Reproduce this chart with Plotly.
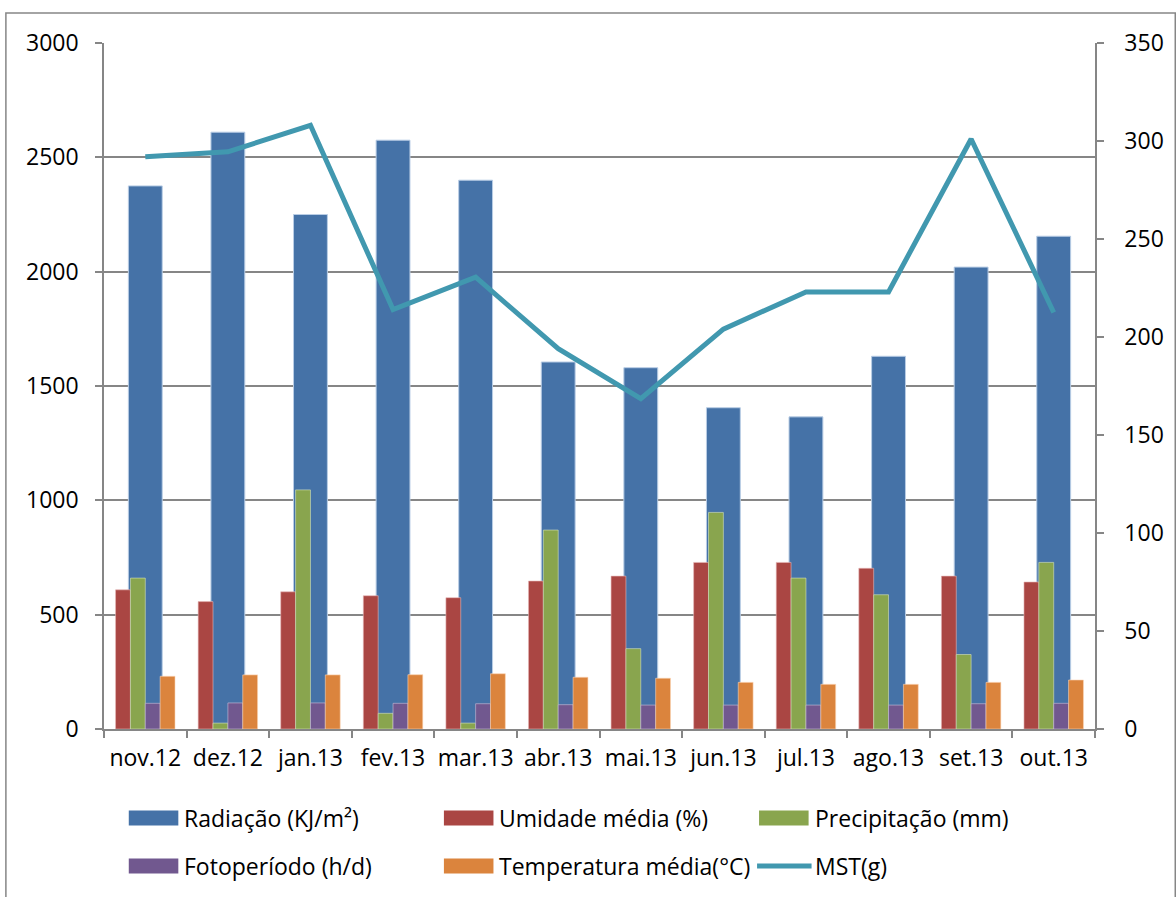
import plotly.graph_objects as go

# Monthly climate series and dry-matter yield (MST)
meses = ["nov.12", "dez.12", "jan.13", "fev.13", "mar.13", "abr.13",
         "mai.13", "jun.13", "jul.13", "ago.13", "set.13", "out.13"]
radiacao = [2375, 2610, 2250, 2575, 2400, 1605, 1580, 1405, 1365, 1630, 2020, 2155]
umidade = [71, 65, 70, 68, 67, 75.5, 78, 85, 85, 82, 78, 75]
precipitacao = [77, 3, 122, 8, 3, 101.5, 41, 110.5, 77, 68.5, 38, 85]
fotoperiodo = [13.1, 13.3, 13.3, 13.1, 12.9, 12.4, 12.2, 12.2, 12.2, 12.2, 12.9, 13.1]
temperatura = [26.9, 27.6, 27.6, 27.7, 28.2, 26.4, 25.9, 23.8, 22.8, 22.8, 23.8, 25.0]
mst = [292, 294.5, 308, 214, 230.5, 194, 168.5, 204, 223, 223, 301, 212.5]

FONT = "Open Sans"
FS = 23
GRID = "#868686"

# pixel geometry of the plotting area
W, H = 1176, 897
L, R, T, B = 104, 72, 43, 168
PW, PH = W - L - R, H - T - B


def px(x):
    return (x - L) / PW


def py(y):
    return (H - B - y) / PH


fig = go.Figure()

# Radiation on the primary axis: one wide bar per month
fig.add_trace(go.Bar(
    x=meses, y=radiacao, name="Radiação (KJ/m²)", yaxis="y",
    width=0.41, offset=-0.205,
    marker=dict(color="#4572A7", line=dict(color="#B9CDE5", width=1)),
))

# The other four series share the secondary axis, side by side
small = [
    ("Umidade média (%)", umidade, "#AA4643", "#E6B9B8"),
    ("Precipitação (mm)", precipitacao, "#89A54E", "#D7E4BD"),
    ("Fotoperíodo (h/d)", fotoperiodo, "#71588F", "#CCC1DA"),
    ("Temperatura média(°C)", temperatura, "#DB843D", "#FCD5B5"),
]
bw = 0.18
for i, (nome, vals, cor, borda) in enumerate(small):
    fig.add_trace(go.Bar(
        x=meses, y=vals, name=nome, yaxis="y2",
        width=bw, offset=-2 * bw + i * bw,
        marker=dict(color=cor, line=dict(color=borda, width=0.6)),
    ))

fig.add_trace(go.Scatter(
    x=meses, y=mst, name="MST(g)", yaxis="y2", mode="lines",
    line=dict(color="#4198AF", width=5),
))

fig.update_layout(
    width=W, height=H,
    margin=dict(l=L, r=R, t=T, b=B),
    paper_bgcolor="white", plot_bgcolor="white",
    font=dict(family=FONT, size=FS, color="black"),
    showlegend=False,
    barmode="overlay",
    xaxis=dict(
        type="category", tickson="boundaries", ticks="outside", ticklen=7,
        tickcolor=GRID, tickwidth=1.5, showline=True, linecolor=GRID, linewidth=1.5,
        showgrid=False, tickfont=dict(size=FS), ticklabelstandoff=8,
        tickangle=0, range=[-0.5, 11.5],
    ),
    yaxis=dict(
        range=[0, 3000], dtick=500, ticks="outside", ticklen=7,
        tickcolor=GRID, tickwidth=1.5, showline=True, linecolor=GRID, linewidth=1.5,
        showgrid=True, gridcolor=GRID, gridwidth=1.6, zeroline=False,
        tickfont=dict(size=FS), ticklabelstandoff=12,
    ),
    yaxis2=dict(
        range=[0, 350], dtick=50, overlaying="y", side="right",
        ticks="outside", ticklen=7, tickcolor=GRID, tickwidth=1.5,
        showline=True, linecolor=GRID, linewidth=1.5,
        showgrid=False, zeroline=False,
        tickfont=dict(size=FS), ticklabelstandoff=16,
    ),
)

# chart frame
fig.add_shape(type="rect", xref="paper", yref="paper",
              x0=px(5), x1=px(1185), y0=py(905), y1=py(13),
              line=dict(color=GRID, width=1.5), fillcolor="rgba(0,0,0,0)",
              layer="below")

# legend drawn as swatches and labels in two rows of three columns
entradas = [
    ("Radiação (KJ/m²)", "#4572A7", "bar"),
    ("Umidade média (%)", "#AA4643", "bar"),
    ("Precipitação (mm)", "#89A54E", "bar"),
    ("Fotoperíodo (h/d)", "#71588F", "bar"),
    ("Temperatura média(°C)", "#DB843D", "bar"),
    ("MST(g)", "#4198AF", "line"),
]
col_x = [129, 447, 765]
row_y = [818, 866]
for k, (nome, cor, tipo) in enumerate(entradas):
    cx = col_x[k % 3]
    cy = row_y[k // 3]
    if tipo == "bar":
        fig.add_shape(type="rect", xref="paper", yref="paper",
                      x0=px(cx), x1=px(cx + 50), y0=py(cy + 7.5), y1=py(cy - 7.5),
                      fillcolor=cor, line=dict(width=0))
    else:
        fig.add_shape(type="line", xref="paper", yref="paper",
                      x0=px(cx - 2), x1=px(cx + 53), y0=py(cy), y1=py(cy),
                      line=dict(color=cor, width=5))
    fig.add_annotation(text=nome, xref="paper", yref="paper",
                       x=px(cx + 54), y=py(cy), xanchor="left", yanchor="middle",
                       showarrow=False, font=dict(size=FS, family=FONT, color="black"))

fig.write_html("out.html")
